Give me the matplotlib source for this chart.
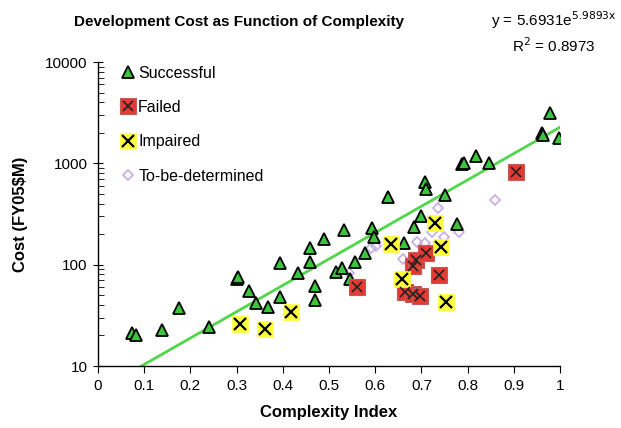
import numpy as np
import matplotlib
matplotlib.use("Agg")
import matplotlib.pyplot as plt
from matplotlib.legend_handler import HandlerTuple

plt.rcParams['font.family'] = ['Liberation Sans', 'DejaVu Sans']

# Data
succ_x = [0.074, 0.082, 0.139, 0.176, 0.240, 0.301, 0.303, 0.327, 0.343, 0.367,
          0.393, 0.395, 0.433, 0.458, 0.458, 0.470, 0.470, 0.489, 0.516, 0.528,
          0.533, 0.545, 0.556, 0.578, 0.592, 0.597, 0.628, 0.662, 0.684, 0.700,
          0.708, 0.711, 0.752, 0.777, 0.787, 0.792, 0.819, 0.846, 0.960, 0.963,
          0.978, 0.997]
succ_y = [21.3, 20.1, 22.5, 37.4, 24.3, 73, 76, 55, 42, 38,
          48, 103, 83, 145, 106, 61, 45, 178, 84, 92,
          220, 73, 107, 130, 228, 189, 465, 165, 236, 303,
          650, 555, 492, 254, 990, 1010, 1180, 1016, 1976, 1900,
          3160, 1795]

fail_x = [0.561, 0.664, 0.681, 0.682, 0.689, 0.696, 0.709, 0.738, 0.904]
fail_y = [60, 54, 96, 51, 111, 49, 131, 79, 826]

imp_x = [0.307, 0.362, 0.417, 0.635, 0.659, 0.729, 0.742, 0.754]
imp_y = [26, 23, 34, 159, 73, 259, 151, 43]

tbd_x = [0.543, 0.590, 0.601, 0.660, 0.690, 0.707, 0.722, 0.737, 0.748, 0.781, 0.860]
tbd_y = [82, 147, 153, 115, 168, 163, 210, 360, 188, 211, 430]

fit_a = 5.6931
fit_b = 5.9893
fit_range = [0.09, 1.0]

fig = plt.figure(figsize=(6.21, 4.28), dpi=100)
ax = fig.add_axes([98/621, 1-366/428, 462/621, 304/428])

# Trend line
fx = np.linspace(fit_range[0], fit_range[1], 200)
ax.plot(fx, fit_a*np.exp(fit_b*fx), color='#4fd64a', lw=2, zorder=2)

tri = ax.plot(succ_x, succ_y, ls='none', marker='^', ms=8, mfc='#3cc43c',
              mec='black', mew=1.3, zorder=4)[0]
tbd = ax.plot(tbd_x, tbd_y, ls='none', marker='D', ms=5.5, mfc='none',
              mec='#c4ace0', mew=1.2, zorder=3)[0]
fsq = ax.plot(fail_x, fail_y, ls='none', marker='s', ms=11, mfc='#e53a32',
              mec='#c25a5a', mew=0.8, zorder=5)[0]
fx_ = ax.plot(fail_x, fail_y, ls='none', marker='x', ms=7, mec='#222222',
              mew=1.2, zorder=6)[0]
isq = ax.plot(imp_x, imp_y, ls='none', marker='s', ms=11, mfc='#ffff3a',
              mec='#ffff3a', mew=0.5, zorder=5)[0]
ix_ = ax.plot(imp_x, imp_y, ls='none', marker='x', ms=8, mec='black',
              mew=1.6, zorder=6)[0]

ax.set_yscale('log')
ax.set_xlim(0, 1)
ax.set_ylim(10, 10000)
ax.set_xticks(np.arange(0, 1.01, 0.1))
ax.set_xticklabels(['0', '0.1', '0.2', '0.3', '0.4', '0.5', '0.6', '0.7', '0.8', '0.9', '1'])
ax.set_yticks([10, 100, 1000, 10000])
ax.set_yticklabels(['10', '100', '1000', '10000'])
ax.yaxis.set_minor_locator(matplotlib.ticker.LogLocator(base=10, subs=np.arange(2, 10)))
ax.yaxis.set_minor_formatter(matplotlib.ticker.NullFormatter())
for s in ['top', 'right']:
    ax.spines[s].set_visible(False)
for s in ['left', 'bottom']:
    ax.spines[s].set_linewidth(1.0)
ax.tick_params(axis='x', direction='out', length=5, labelsize=11, pad=4)
ax.tick_params(axis='y', which='major', direction='inout', length=7, labelsize=11, pad=4)
ax.tick_params(axis='y', which='minor', direction='in', length=4)

ax.set_xlabel('Complexity Index', fontsize=12, fontweight='bold', labelpad=9)
ax.set_ylabel('Cost (FY05$M)', fontsize=12, fontweight='bold', labelpad=12)

fig.text(239/621, 1-22/428, 'Development Cost as Function of Complexity',
         ha='center', va='center', fontsize=11, fontweight='bold')
fig.text(617/621, 1-20/428, 'y = 5.6931e$^{\\mathrm{5.9893x}}$', ha='right', va='center', fontsize=11)
fig.text(596/621, 1-46/428, 'R$^{\\mathrm{2}}$ = 0.8973', ha='right', va='center', fontsize=11)

handles = [tri, (fsq, fx_), (isq, ix_), tbd]
labels = ['Successful', 'Failed', 'Impaired', 'To-be-determined']
leg = ax.legend(handles, labels, loc='upper left', frameon=False, fontsize=11.5,
                labelspacing=1.22, handlelength=0.8, handletextpad=0.25,
                borderaxespad=0.2, bbox_to_anchor=(0.03, 1.02),
                handler_map={tuple: HandlerTuple(ndivide=1, pad=0)})

fig.savefig('out.png', dpi=100)
